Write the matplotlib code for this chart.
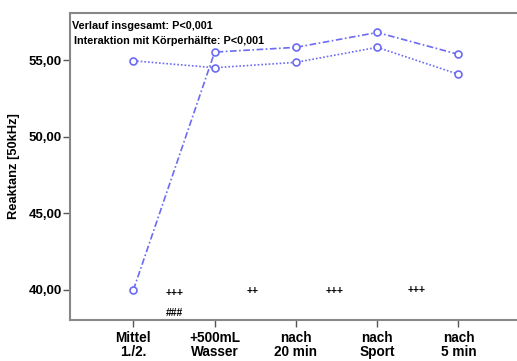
import matplotlib
matplotlib.use("Agg")
import matplotlib.pyplot as plt

categories = ["Mittel\n1./2.", "+500mL\nWasser", "nach\n20 min", "nach\nSport", "nach\n5 min"]
series_a = [40.0, 55.52, 55.83, 56.8, 55.37]   # dash-dot
series_b = [54.95, 54.5, 54.85, 55.83, 54.07]  # dotted
yticks = [40, 45, 50, 55]
ann_x = [0.51, 0.51, 1.47, 2.47, 3.49]
ann_y = [39.8, 38.5, 39.93, 39.93, 40.0]
ann_t = ["+++", "###", "++", "+++", "+++"]

plt.rcParams['font.family'] = ['Liberation Sans', 'DejaVu Sans']
fig = plt.figure(figsize=(5.17, 3.61), dpi=100)
ax = fig.add_axes([70/517, 1-320/361, 1-70/517, (320-13)/361])

col = '#6b6bf5'
x = list(range(len(categories)))
ax.plot(x, series_a, color=col, linestyle=(0, (4, 1.5, 1, 1.5)), lw=1.2,
        marker='o', mfc='white', mec=col, ms=5, mew=1.2)
ax.plot(x, series_b, color=col, linestyle=(0, (1, 1.2)), lw=1.2,
        marker='o', mfc='white', mec=col, ms=5, mew=1.2)

for xx, yy, t in zip(ann_x, ann_y, ann_t):
    ax.text(xx, yy, t, ha='center', va='center', fontsize=7.5, fontweight='bold')

ax.text(0.005, 0.975, "Verlauf insgesamt: P<0,001", transform=ax.transAxes,
        fontsize=7.8, fontweight='bold', va='top', ha='left')
ax.text(0.01, 0.925, "Interaktion mit Körperhälfte: P<0,001", transform=ax.transAxes,
        fontsize=7.8, fontweight='bold', va='top', ha='left')

ax.set_xlim(-0.78, 4.72)
ax.set_ylim(38.04, 58.07)
ax.set_xticks(x)
ax.set_xticklabels(categories, fontsize=9.8, fontweight='bold', linespacing=0.95)
ax.set_yticks(yticks)
ax.set_yticklabels([f"{v:.2f}".replace('.', ',') for v in yticks], fontsize=9.5, fontweight='bold')
ax.set_ylabel("Reaktanz [50kHz]", fontsize=9.3, fontweight='bold', labelpad=6)

for s in ['left', 'bottom', 'top']:
    ax.spines[s].set_color('#888888')
    ax.spines[s].set_linewidth(1.5)
ax.spines['right'].set_visible(False)
ax.tick_params(axis='both', color='#555555', length=5, width=1)
ax.tick_params(axis='y', pad=1)
ax.tick_params(axis='x', pad=3)

fig.savefig("out.png", dpi=100)
